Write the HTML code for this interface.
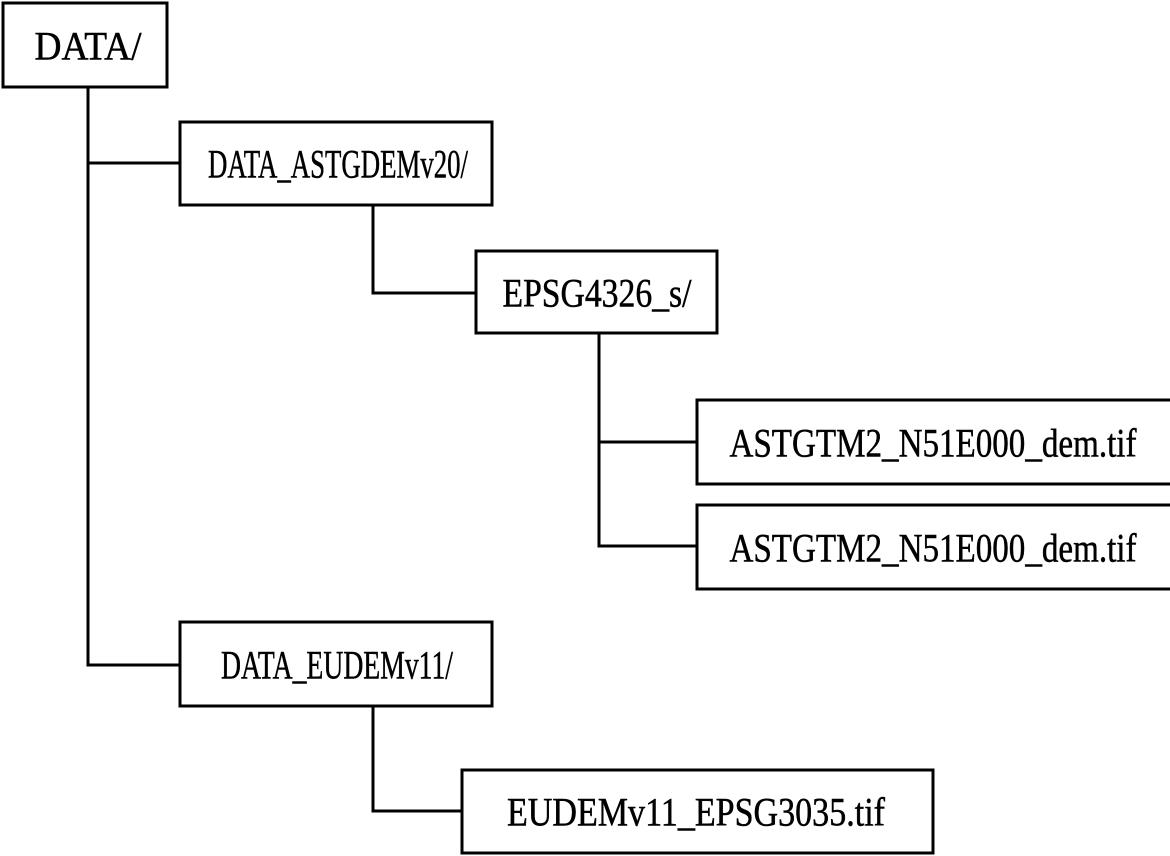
<!DOCTYPE html>
<html><head><style>
html,body{margin:0;padding:0;background:#fff;}
svg{display:block;}
text{font-family:"Liberation Serif","DejaVu Serif",serif;font-size:40px;fill:#000;stroke:#000;stroke-width:0.5;text-anchor:middle;dominant-baseline:central;}
</style></head><body>
<svg width="1170" height="856" viewBox="0 0 1170 856" xmlns="http://www.w3.org/2000/svg">
<g fill="#fff" stroke="#000" stroke-width="3">
<rect x="3" y="3" width="164" height="84"/>
<rect x="180" y="122" width="312" height="83"/>
<rect x="476" y="251" width="241" height="82"/>
<rect x="697" y="400" width="475" height="84"/>
<rect x="697" y="505" width="475" height="84"/>
<rect x="180" y="622" width="312" height="84"/>
<rect x="462" y="770" width="471" height="83"/>
</g>
<g fill="none" stroke="#000" stroke-width="3">
<polyline points="88,87 88,665 180,665"/>
<line x1="88" y1="163" x2="180" y2="163"/>
<polyline points="373,205 373,293 476,293"/>
<polyline points="599,333 599,546 697,546"/>
<line x1="599" y1="442" x2="697" y2="442"/>
<polyline points="373,706 373,811 462,811"/>
</g>
<text x="88" y="46" textLength="107" lengthAdjust="spacingAndGlyphs">DATA/</text>
<text x="338" y="164" textLength="260" lengthAdjust="spacingAndGlyphs">DATA_ASTGDEMv20/</text>
<text x="597" y="293" textLength="189" lengthAdjust="spacingAndGlyphs">EPSG4326_s/</text>
<text x="933" y="443" textLength="407" lengthAdjust="spacingAndGlyphs">ASTGTM2_N51E000_dem.tif</text>
<text x="933" y="548" textLength="407" lengthAdjust="spacingAndGlyphs">ASTGTM2_N51E000_dem.tif</text>
<text x="337" y="665" textLength="232" lengthAdjust="spacingAndGlyphs">DATA_EUDEMv11/</text>
<text x="696" y="812" textLength="378" lengthAdjust="spacingAndGlyphs">EUDEMv11_EPSG3035.tif</text>
</svg>
</body></html>
